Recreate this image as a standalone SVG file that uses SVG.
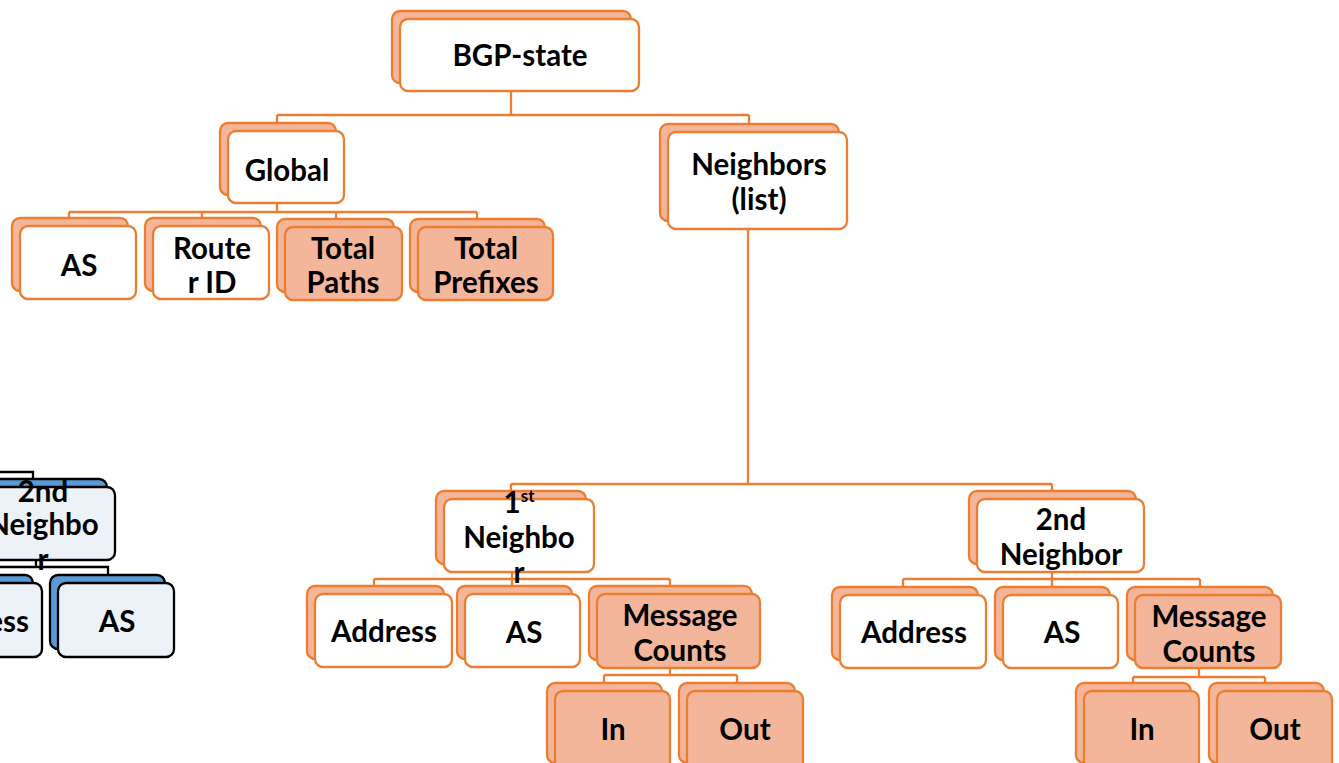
<svg xmlns="http://www.w3.org/2000/svg" width="1339" height="763" viewBox="0 0 1339 763">
<style>
.bk{fill:#F4B69A;stroke:#ED7D31;stroke-width:2.3}
.fw{fill:#FFFFFF;stroke:#ED7D31;stroke-width:2.3}
.ff{fill:#F4B69A;stroke:#ED7D31;stroke-width:2.3}
.bb{fill:#5B9BD5;stroke:#000;stroke-width:2.3}
.fb{fill:#EDF2F9;stroke:#000;stroke-width:2.3}
.cn{fill:none;stroke:#ED7D31;stroke-width:2.3}
.ck{fill:none;stroke:#000;stroke-width:2.3}
text{font-family:Lato,"Liberation Sans",sans-serif;font-weight:bold;font-size:29.5px;fill:#000;text-anchor:middle}
</style>
<g id="connectors">
<path class="cn" d="M511,91V115M277,115H749M277,115V122M749,115V123"/>
<path class="cn" d="M277,203V212M69,212H477M69,212V218M202,212V218M336,212V219M477,212V219"/>
<path class="cn" d="M748,229V484M511,484H1052M511,484V491M1052,484V491"/>
<path class="cn" d="M512,572V579M374,579H670M374,579V585M512,579V586M670,579V586"/>
<path class="cn" d="M670,668V675M604,675H737M604,675V683M737,675V683"/>
<path class="cn" d="M1052,572V579M903,579H1200M903,579V587M1052,579V587M1200,579V587"/>
<path class="cn" d="M1199,668V677M1133,677H1265M1133,677V683M1265,677V683"/>
<path class="ck" d="M0,472H33V479M36,560V567M0,567H108V575"/>
</g>
<g id="bgp-state"><rect class="bk" x="392" y="11" width="239" height="72" rx="8"/><rect class="fw" x="400" y="19" width="239" height="72" rx="8"/><text x="520" y="66">BGP-state</text></g>
<g id="global"><rect class="bk" x="220" y="123" width="116" height="72" rx="8"/><rect class="fw" x="228" y="131" width="116" height="72" rx="8"/><text x="287" y="181">Global</text></g>
<g id="neighbors"><rect class="bk" x="660" y="124" width="179" height="97" rx="8"/><rect class="fw" x="668" y="132" width="179" height="97" rx="8"/><text x="759" y="175">Neighbors</text><text x="759" y="210">(list)</text></g>
<g id="global-as"><rect class="bk" x="12" y="218" width="116" height="73" rx="8"/><rect class="fw" x="20" y="226" width="116" height="73" rx="8"/><text x="79" y="276">AS</text></g>
<g id="router-id"><rect class="bk" x="145" y="218" width="116" height="73" rx="8"/><rect class="fw" x="153" y="226" width="116" height="73" rx="8"/><text x="212" y="259">Route</text><text x="212" y="293">r ID</text></g>
<g id="total-paths"><rect class="bk" x="277" y="219" width="117" height="73" rx="8"/><rect class="ff" x="285" y="227" width="117" height="73" rx="8"/><text x="343" y="259">Total</text><text x="343" y="293">Paths</text></g>
<g id="total-prefixes"><rect class="bk" x="410" y="219" width="135" height="73" rx="8"/><rect class="ff" x="418" y="227" width="135" height="73" rx="8"/><text x="486" y="259">Total</text><text x="486" y="293">Prefixes</text></g>
<g id="neighbor-1"><rect class="bk" x="436" y="491" width="150" height="73" rx="8"/><rect class="fw" x="444" y="499" width="150" height="73" rx="8"/><text x="519" y="513">1<tspan font-size="17" dy="-11">st</tspan></text><text x="519" y="548">Neighbo</text><text x="519" y="583">r</text></g>
<g id="n1-address"><rect class="bk" x="307" y="586" width="137" height="73" rx="8"/><rect class="fw" x="315" y="594" width="137" height="73" rx="8"/><text x="384" y="642">Address</text></g>
<g id="n1-as"><rect class="bk" x="457" y="586" width="115" height="73" rx="8"/><rect class="fw" x="465" y="594" width="115" height="73" rx="8"/><text x="524" y="643">AS</text></g>
<g id="n1-message-counts"><rect class="bk" x="589" y="586" width="163" height="74" rx="8"/><rect class="ff" x="597" y="594" width="163" height="74" rx="8"/><text x="680" y="626">Message</text><text x="680" y="661">Counts</text></g>
<g id="n1-in"><rect class="bk" x="547" y="683" width="115" height="80" rx="8"/><rect class="ff" x="555" y="691" width="115" height="80" rx="8"/><text x="613" y="740">In</text></g>
<g id="n1-out"><rect class="bk" x="679" y="683" width="116" height="80" rx="8"/><rect class="ff" x="687" y="691" width="116" height="80" rx="8"/><text x="745" y="740">Out</text></g>
<g id="neighbor-2"><rect class="bk" x="969" y="491" width="167" height="73" rx="8"/><rect class="fw" x="977" y="499" width="167" height="73" rx="8"/><text x="1061" y="530">2nd</text><text x="1061" y="565">Neighbor</text></g>
<g id="n2-address"><rect class="bk" x="832" y="587" width="146" height="73" rx="8"/><rect class="fw" x="840" y="595" width="146" height="73" rx="8"/><text x="914" y="643">Address</text></g>
<g id="n2-as"><rect class="bk" x="995" y="587" width="115" height="73" rx="8"/><rect class="fw" x="1003" y="595" width="115" height="73" rx="8"/><text x="1062" y="643">AS</text></g>
<g id="n2-message-counts"><rect class="bk" x="1127" y="587" width="146" height="73" rx="8"/><rect class="ff" x="1135" y="595" width="146" height="73" rx="8"/><text x="1209" y="627">Message</text><text x="1209" y="662">Counts</text></g>
<g id="n2-in"><rect class="bk" x="1076" y="683" width="115" height="80" rx="8"/><rect class="ff" x="1084" y="691" width="115" height="80" rx="8"/><text x="1142" y="740">In</text></g>
<g id="n2-out"><rect class="bk" x="1209" y="683" width="115" height="80" rx="8"/><rect class="ff" x="1217" y="691" width="115" height="80" rx="8"/><text x="1275" y="740">Out</text></g>
<g id="left-neighbor"><rect class="bb" x="-43" y="479" width="150" height="73" rx="8"/><rect class="fb" x="-35" y="487" width="150" height="73" rx="8"/><text x="43" y="502">2nd</text><text x="43" y="535">Neighbo</text><text x="43" y="570">r</text></g>
<g id="left-address"><rect class="bb" x="-104" y="575" width="137" height="74" rx="8"/><rect class="fb" x="-95" y="583" width="137" height="74" rx="8"/><text x="-24" y="632">Address</text></g>
<g id="left-as"><rect class="bb" x="50" y="575" width="115" height="74" rx="8"/><rect class="fb" x="58" y="583" width="116" height="74" rx="8"/><text x="117" y="632">AS</text></g>
</svg>
